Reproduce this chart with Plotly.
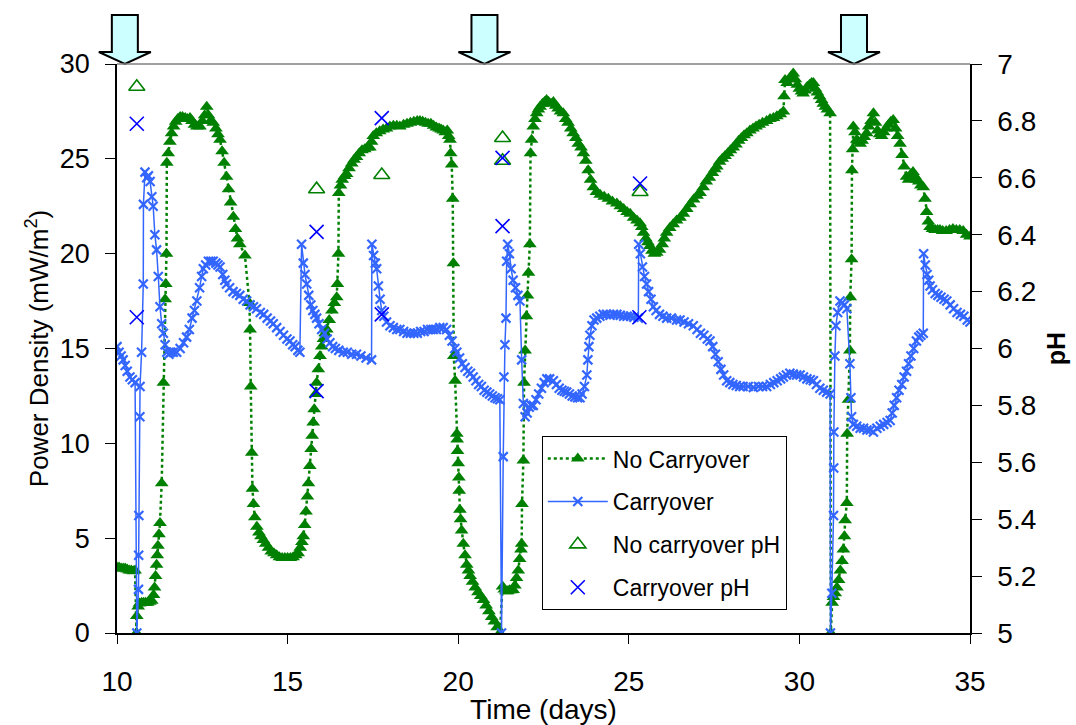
import plotly.graph_objects as go

# ---------------- data ----------------
no_carry_day = [
    10.0, 10.06, 10.12, 10.18, 10.24, 10.3, 10.36, 10.42, 10.48, 10.53, 10.57, 10.58,
    10.62, 10.66, 10.72, 10.78, 10.84, 10.9, 10.96, 11.02, 11.07, 11.1, 11.13, 11.16, 11.18, 11.2, 11.23, 11.26,
    11.31, 11.36, 11.41, 11.43, 11.45, 11.46,
    11.5, 11.55, 11.6, 11.66, 11.72, 11.78, 11.85, 11.92, 12.0, 12.07, 12.14, 12.2, 12.27, 12.34, 12.43, 12.5,
    12.57, 12.63, 12.68, 12.74, 12.82, 12.9, 12.96, 13.02, 13.08, 13.14, 13.21, 13.27, 13.33, 13.41, 13.47,
    13.53, 13.6, 13.75,
    13.88, 13.9, 13.92, 13.95, 13.97,
    14.0, 14.04, 14.1, 14.16, 14.22, 14.29, 14.36, 14.44, 14.52, 14.6, 14.68, 14.76, 14.84, 14.92, 15.0, 15.08,
    15.16, 15.24, 15.31, 15.37, 15.42, 15.46, 15.5, 15.54, 15.58, 15.61, 15.65, 15.69, 15.72, 15.75, 15.78,
    15.82, 15.85, 15.9, 15.95, 16.0, 16.05, 16.1, 16.15, 16.22, 16.3, 16.37, 16.44, 16.46, 16.49, 16.5,
    16.55, 16.6, 16.67, 16.73, 16.8, 16.88, 16.95, 17.02, 17.1, 17.18, 17.26, 17.34, 17.41, 17.46, 17.51,
    17.6, 17.7, 17.8, 17.9, 18.0, 18.1, 18.2, 18.29, 18.4, 18.5, 18.6, 18.7, 18.8, 18.88, 18.96, 19.04, 19.12,
    19.2, 19.28, 19.36, 19.44, 19.5, 19.56, 19.62, 19.68, 19.72, 19.76, 19.78, 19.81, 19.84, 19.86, 19.87,
    19.91, 19.96,
    19.97, 19.98, 20.0, 20.02, 20.03, 20.05, 20.07, 20.1, 20.15, 20.2, 20.25, 20.3, 20.35, 20.42, 20.5, 20.58,
    20.66, 20.74, 20.82, 20.9, 20.98, 21.06, 21.14, 21.22,
    21.3, 21.35, 21.4, 21.45, 21.5, 21.56, 21.61, 21.66, 21.71, 21.76, 21.8, 21.84, 21.86, 21.87, 21.91,
    21.93, 21.96, 22.0, 22.03, 22.06, 22.1, 22.12,
    22.15, 22.2, 22.25, 22.3, 22.35, 22.4, 22.47, 22.53, 22.59, 22.65, 22.72, 22.79, 22.86, 22.93, 23.0, 23.08,
    23.15, 23.22, 23.3, 23.37, 23.45, 23.52, 23.6, 23.67, 23.74, 23.81, 23.88, 23.96, 24.05, 24.16, 24.28,
    24.4, 24.52, 24.65, 24.75, 24.85, 24.95, 25.04, 25.14, 25.24, 25.33, 25.38, 25.43, 25.5, 25.56, 25.62,
    25.68, 25.75, 25.82, 25.9, 25.98, 26.04, 26.11, 26.2, 26.3, 26.4, 26.5, 26.6, 26.7, 26.8, 26.9, 27.0,
    27.09, 27.18, 27.27, 27.36, 27.45, 27.52, 27.58, 27.66, 27.74, 27.82, 27.9, 27.98, 28.06, 28.14, 28.22,
    28.3, 28.38, 28.46, 28.55, 28.64, 28.73, 28.82, 28.92, 29.04, 29.14, 29.24, 29.34, 29.44, 29.53, 29.55,
    29.58, 29.64, 29.7, 29.76, 29.82, 29.88, 29.94, 30.0, 30.06, 30.11, 30.17, 30.23, 30.3, 30.36, 30.41,
    30.47, 30.53, 30.59, 30.65, 30.7, 30.76, 30.82, 30.9, 30.92,
    30.96, 31.0, 31.05, 31.1, 31.15, 31.2, 31.25, 31.29, 31.32, 31.34, 31.39, 31.4, 31.44, 31.48, 31.49,
    31.53, 31.54, 31.56, 31.58, 31.63, 31.68, 31.73, 31.78, 31.84, 31.9, 31.97, 32.03, 32.1, 32.17, 32.23,
    32.29, 32.35, 32.41, 32.47, 32.54, 32.61, 32.68, 32.75, 32.82, 32.88, 32.95, 33.01, 33.07, 33.14, 33.2,
    33.27, 33.33, 33.38, 33.43, 33.5, 33.56, 33.63, 33.68, 33.73, 33.78, 33.83, 33.9, 33.98, 34.05, 34.12,
    34.2, 34.3, 34.4, 34.5, 34.6, 34.7, 34.8, 34.9, 35.0]
no_carry_pd = [
    3.45, 3.45, 3.4, 3.4, 3.4, 3.35, 3.3, 3.3, 3.25, 3.3, 0.0, 0.9,
    1.4, 1.55, 1.6, 1.6, 1.6, 1.6, 1.65, 1.7, 2.0, 2.4, 3.0, 3.6, 4.1, 4.6, 5.2, 5.8,
    7.9, 13.2, 17.6, 18.4, 20.0, 24.8,
    25.3, 25.9, 26.35, 26.7, 26.95, 27.1, 27.2, 27.2, 27.15, 27.1, 27.15, 27.0, 26.8, 26.7, 26.7, 27.0,
    27.3, 27.75, 27.3, 27.0, 26.9, 26.6, 26.3, 26.0, 25.4, 24.8, 24.05, 23.4, 22.7, 21.95, 21.3,
    20.8, 20.5, 19.9,
    17.4, 16.0, 13.0, 9.5, 7.6,
    6.8, 6.1, 5.6, 5.3, 5.1, 4.9, 4.7, 4.5, 4.3, 4.2, 4.1, 4.0, 3.95, 3.95, 3.95, 3.95,
    4.0, 4.1, 4.2, 4.5, 4.8, 5.1, 5.7, 6.4, 7.2, 7.9, 8.8, 9.7, 10.4, 11.1, 11.8,
    12.6, 13.2, 13.9, 14.6, 15.1, 15.5, 15.8, 16.0, 16.5, 17.0, 17.4, 17.7, 18.4, 20.0, 23.2,
    23.6, 23.9, 24.1, 24.2, 24.5, 24.75, 24.95, 25.1, 25.3, 25.45, 25.5, 25.6, 25.6, 25.9, 26.2,
    26.35, 26.45, 26.55, 26.6, 26.7, 26.75, 26.75, 26.7, 26.8, 26.85, 26.9, 26.95, 27.0, 27.0, 26.95, 26.9, 26.85,
    26.85, 26.75, 26.65, 26.6, 26.55, 26.5, 26.4, 26.5, 26.2, 26.0, 25.3, 24.7, 22.9, 19.5, 14.6,
    13.3, 10.5,
    10.2, 9.6, 8.95, 8.2, 7.5, 6.5, 6.0, 5.4, 4.7, 4.1, 3.6, 3.3, 3.0, 2.7, 2.4, 2.15,
    1.95, 1.74, 1.45, 1.15, 0.85, 0.6, 0.3, 0.0,
    2.45, 2.3, 2.2, 2.2, 2.25, 2.25, 2.27, 2.5, 2.9, 3.3, 3.9, 4.4, 4.7, 6.8, 9.1,
    13.2, 14.9, 16.7, 17.8, 19.0, 20.5, 25.3,
    26.0, 26.7, 27.1, 27.4, 27.6, 27.75, 27.9, 28.0, 28.1, 28.0, 27.9, 28.0, 27.8, 27.65, 27.5, 27.4,
    27.1, 26.9, 26.6, 26.35, 26.1, 25.8, 25.6, 25.3, 24.9, 24.4, 23.9, 23.5, 23.25, 23.1, 23.0,
    22.9, 22.75, 22.65, 22.5, 22.35, 22.2, 22.1, 21.9, 21.75, 21.6, 21.4, 21.1, 20.8, 20.6, 20.4,
    20.15, 20.0, 20.05, 20.2, 20.5, 20.8, 21.1, 21.35, 21.55, 21.75, 21.9, 22.1, 22.35, 22.6, 22.85, 23.05,
    23.2, 23.5, 23.8, 24.0, 24.25, 24.45, 24.6, 24.85, 25.0, 25.15, 25.3, 25.45, 25.6, 25.75, 25.95,
    26.1, 26.25, 26.35, 26.5, 26.6, 26.7, 26.8, 26.9, 27.0, 27.1, 27.15, 27.25, 27.35, 27.5, 28.3,
    29.15, 29.0, 29.2, 29.35, 29.5, 29.2, 28.9, 28.7, 28.55, 28.45, 28.6, 28.8, 28.9, 29.0, 29.0,
    28.7, 28.5, 28.3, 28.1, 27.9, 27.75, 27.6, 27.4, 0.0,
    1.6, 1.9, 2.1, 2.4, 2.8, 3.3, 3.8, 4.4, 5.1, 5.95, 6.85, 10.5, 12.3, 14.9, 17.7,
    19.7, 24.4, 25.5, 26.7, 26.4, 26.0, 25.9, 25.8, 25.95, 26.15, 26.35, 26.7, 27.0, 27.4, 26.9,
    26.5, 26.3, 26.2, 26.4, 26.6, 26.8, 26.95, 27.05, 26.6, 26.2, 25.8, 25.2, 24.6, 24.05, 23.9,
    24.2, 24.3, 24.1, 23.9, 23.8, 23.6, 23.5, 22.9, 22.2, 21.7, 21.4, 21.3, 21.25, 21.25, 21.25,
    21.2, 21.2, 21.25, 21.3, 21.25, 21.25, 21.2, 21.0, 20.9]

carry_day = [
    10.0, 10.06, 10.12, 10.18, 10.24, 10.3, 10.38, 10.45, 10.53, 10.58, 10.63, 10.635, 10.64, 10.67, 10.675,
    10.72, 10.77, 10.775, 10.82, 10.87, 10.92, 10.97, 11.02, 11.06, 11.11, 11.16, 11.21, 11.26, 11.31, 11.36,
    11.41, 11.46, 11.52, 11.58, 11.65, 11.75, 11.85, 11.95, 12.04, 12.12, 12.2, 12.27, 12.34, 12.42, 12.48,
    12.53, 12.6, 12.68, 12.75, 12.82, 12.9, 12.96, 13.02, 13.1, 13.16, 13.21, 13.3, 13.4, 13.5, 13.6, 13.7,
    13.8, 13.9, 14.0, 14.09, 14.2, 14.3, 14.4, 14.5, 14.58, 14.68, 14.78, 14.88, 14.98, 15.07, 15.15, 15.22,
    15.3, 15.36, 15.41, 15.46, 15.51, 15.56, 15.62, 15.68, 15.74, 15.8, 15.85, 15.92, 16.0, 16.08, 16.16,
    16.24, 16.32, 16.4, 16.5, 16.63, 16.75, 16.88, 17.02, 17.15, 17.3, 17.46, 17.47, 17.52, 17.57, 17.61,
    17.66, 17.71, 17.76, 17.82, 17.9, 18.0, 18.1, 18.2, 18.29, 18.4, 18.5, 18.6, 18.7, 18.8, 18.9, 19.0,
    19.1, 19.2, 19.27, 19.36, 19.46, 19.56, 19.66, 19.74, 19.82, 19.9, 19.96, 20.04, 20.12, 20.2, 20.28,
    20.36, 20.44, 20.52, 20.6, 20.68, 20.76, 20.84, 20.92, 21.0, 21.08, 21.15, 21.22, 21.27, 21.32, 21.34,
    21.37, 21.40, 21.42, 21.45, 21.5, 21.55, 21.61, 21.68, 21.75, 21.81, 21.86, 21.91, 21.96, 22.02, 22.08,
    22.14, 22.2, 22.28, 22.36, 22.44, 22.52, 22.6, 22.68, 22.79, 22.88, 22.96, 23.04, 23.11, 23.18, 23.26,
    23.34, 23.42, 23.5, 23.57, 23.63, 23.7, 23.77, 23.8, 23.83, 23.86, 23.92, 23.98, 24.06, 24.15, 24.25,
    24.35, 24.45, 24.55, 24.65, 24.75, 24.85, 24.95, 25.05, 25.15, 25.28, 25.29, 25.34, 25.4, 25.46, 25.52,
    25.58, 25.65, 25.72, 25.8, 25.9, 26.0, 26.11, 26.25, 26.4, 26.5, 26.62, 26.75, 26.89, 27.0, 27.1, 27.2,
    27.3, 27.38, 27.46, 27.54, 27.62, 27.7, 27.78, 27.87, 27.96, 28.05, 28.15, 28.25, 28.35, 28.5, 28.65,
    28.8, 28.92, 29.04, 29.15, 29.25, 29.35, 29.45, 29.53, 29.62, 29.72, 29.82, 29.92, 30.02, 30.12, 30.22,
    30.32, 30.41, 30.5, 30.6, 30.7, 30.8, 30.9, 30.91, 30.95, 31.0, 31.005, 31.01, 31.04, 31.07, 31.12,
    31.19, 31.25, 31.32, 31.39, 31.48, 31.51, 31.53, 31.58, 31.68, 31.78, 31.88, 31.98, 32.08, 32.17, 32.27,
    32.37, 32.47, 32.57, 32.66, 32.72, 32.78, 32.85, 32.92, 33.0, 33.07, 33.14, 33.2, 33.27, 33.35, 33.43,
    33.5, 33.56, 33.63, 33.64, 33.69, 33.74, 33.79, 33.83, 33.9, 33.98, 34.06, 34.15, 34.24, 34.32, 34.42,
    34.52, 34.62, 34.72, 34.82, 34.92, 35.0]
carry_pd = [
    15.1, 14.8, 14.6, 14.4, 14.1, 13.8, 13.5, 13.35, 13.2, 0.0, 2.3, 4.1, 6.2, 11.4, 13.0,
    14.8, 18.4, 22.6, 24.3, 24.0, 24.1, 23.8, 23.0, 22.5, 21.0, 20.2, 18.8, 17.2, 16.3, 15.8,
    15.2, 14.8, 14.7, 14.8, 14.8, 14.8, 15.0, 15.3, 15.6, 16.0, 16.6, 17.0, 17.5, 18.2, 18.8,
    19.2, 19.4, 19.6, 19.6, 19.6, 19.5, 19.4, 19.3, 18.9, 18.6, 18.4, 18.2, 18.0, 17.9, 17.8, 17.6,
    17.5, 17.3, 17.2, 17.1, 16.9, 16.8, 16.6, 16.45, 16.3, 16.1, 15.9, 15.7, 15.5, 15.4, 15.2, 15.1,
    14.9, 14.8, 20.5, 19.5, 18.9, 18.4, 17.8, 17.3, 17.0, 16.8, 16.6, 16.3, 16.0, 15.8, 15.5,
    15.3, 15.1, 15.0, 14.9, 14.8, 14.8, 14.7, 14.7, 14.6, 14.5, 14.4, 20.5, 19.9, 19.5, 19.2,
    18.3, 17.6, 17.0, 16.7, 16.4, 16.2, 16.1, 16.0, 16.0, 15.9, 15.8, 15.8, 15.8, 15.8, 15.9, 15.9,
    16.0, 16.0, 16.0, 16.0, 16.1, 16.1, 16.0, 15.7, 15.4, 15.0, 14.8, 14.5, 14.2, 14.0, 13.8,
    13.7, 13.5, 13.3, 13.1, 13.0, 12.8, 12.7, 12.6, 12.5, 12.4, 12.35, 12.3, 0.0, 9.3, 13.5,
    15.2, 16.6, 19.6, 20.5, 20.0, 19.2, 18.6, 18.2, 17.8, 17.5, 14.4, 12.1, 11.4, 11.6, 11.9,
    12.0, 12.0, 12.3, 12.6, 12.9, 13.2, 13.4, 13.4, 13.3, 13.1, 12.9, 12.8, 12.75, 12.7, 12.6,
    12.5, 12.45, 12.4, 12.4, 12.6, 13.0, 13.6, 14.4, 15.1, 15.7, 16.2, 16.5, 16.6, 16.7, 16.8,
    16.8, 16.75, 16.8, 16.8, 16.75, 16.7, 16.7, 16.7, 16.65, 16.6, 20.5, 20.0, 19.3, 18.8, 18.4,
    18.0, 17.6, 17.2, 17.0, 16.8, 16.7, 16.6, 16.6, 16.5, 16.5, 16.4, 16.3, 16.2, 16.0, 15.8, 15.7,
    15.5, 15.4, 15.1, 14.7, 14.3, 13.9, 13.6, 13.3, 13.2, 13.1, 13.05, 13.0, 13.0, 13.0, 12.95,
    13.0, 13.0, 13.0, 13.1, 13.2, 13.3, 13.4, 13.5, 13.6, 13.7, 13.65, 13.6, 13.6, 13.5, 13.4,
    13.35, 13.3, 13.1, 12.9, 12.8, 12.7, 12.6, 0.0, 2.1, 6.2, 8.7, 10.6, 14.6, 16.2, 16.9,
    17.5, 17.4, 17.3, 17.1, 14.2, 12.4, 11.4, 11.0, 10.9, 10.8, 10.8, 10.7, 10.7, 10.6, 10.8,
    10.9, 11.0, 11.1, 11.2, 11.6, 12.0, 12.4, 12.8, 13.1, 13.5, 13.8, 14.2, 14.6, 15.0, 15.4,
    15.6, 15.7, 15.8, 20.0, 19.4, 18.9, 18.6, 18.3, 18.1, 17.9, 17.8, 17.7, 17.6, 17.5, 17.3,
    17.1, 16.9, 16.8, 16.7, 16.5, 16.4]

no_carry_ph_day = [10.58, 15.85, 17.76, 21.3, 21.3, 25.33]
no_carry_ph = [6.92, 6.56, 6.61, 6.74, 6.66, 6.55]

carry_ph_day = [10.58, 10.58, 15.85, 15.85, 17.76, 17.76, 21.3, 21.3, 25.33, 25.31]
carry_ph = [6.79, 6.11, 6.41, 5.85, 6.81, 6.12, 6.67, 6.43, 6.58, 6.11]

arrow_days = [10.23, 20.77, 31.6]

assert len(no_carry_day) == len(no_carry_pd), (len(no_carry_day), len(no_carry_pd))
assert len(carry_day) == len(carry_pd), (len(carry_day), len(carry_pd))

x_range = [10, 35]
pd_range = [0, 30]
ph_range = [5, 7]

GREEN = "#008000"
BLUE_LINE = "#3366FF"
BLUE_PH = "#0000FF"
FONT = "Arial, Liberation Sans, sans-serif"

fig = go.Figure()

fig.add_trace(go.Scatter(
    x=no_carry_day, y=no_carry_pd, name="No Carryover", mode="lines+markers",
    line=dict(color=GREEN, width=2.5, dash="dot"),
    marker=dict(symbol="triangle-up", size=12, color=GREEN),
    legendgroup="a", yaxis="y"))

fig.add_trace(go.Scatter(
    x=carry_day, y=carry_pd, name="Carryover", mode="lines+markers",
    line=dict(color=BLUE_LINE, width=1.5),
    marker=dict(symbol="x-thin", size=9, color=BLUE_LINE, line=dict(color=BLUE_LINE, width=2.2)),
    legendgroup="b", yaxis="y"))

fig.add_trace(go.Scatter(
    x=no_carry_ph_day, y=no_carry_ph, name="No carryover pH", mode="markers",
    marker=dict(symbol="triangle-up-open", size=14, color=GREEN, line=dict(color=GREEN, width=1.6)),
    legendgroup="c", yaxis="y2"))

fig.add_trace(go.Scatter(
    x=carry_ph_day, y=carry_ph, name="Carryover pH", mode="markers",
    marker=dict(symbol="x-thin", size=14, color=BLUE_PH, line=dict(color=BLUE_PH, width=1.6)),
    legendgroup="d", yaxis="y2"))

# arrows above the plot
for d in arrow_days:
    xp = (d - x_range[0]) / (x_range[1] - x_range[0])
    fig.add_shape(type="path", xref="paper", yref="paper",
                  xsizemode="pixel", ysizemode="pixel", xanchor=xp, yanchor=1,
                  path="M -13,49 L 13,49 L 13,12 L 26,12 L 0,0 L -26,12 L -13,12 Z",
                  fillcolor="#CCFFFF", line=dict(color="black", width=2), layer="above")

# grey top border
fig.add_shape(type="line", xref="paper", yref="paper", x0=0, x1=1, y0=1, y1=1,
              line=dict(color="#808080", width=1.5))

fig.update_layout(
    width=1076, height=725,
    margin=dict(l=117, r=106, t=64, b=92, autoexpand=False),
    paper_bgcolor="white", plot_bgcolor="white",
    font=dict(family=FONT, color="black"),
    showlegend=True,
    legend=dict(x=0.498, y=0.346, xanchor="left", yanchor="top",
                bgcolor="white", bordercolor="black", borderwidth=1,
                font=dict(size=23, family=FONT), tracegroupgap=10, itemwidth=60,
                traceorder="grouped"),
    xaxis=dict(range=x_range, dtick=5, tick0=10, showline=True, linecolor="black", linewidth=1.5,
               ticks="outside", ticklen=9, tickcolor="black", showgrid=False, zeroline=False,
               tickfont=dict(size=28), ticklabelstandoff=14,
               title=dict(text="Time (days)", font=dict(size=28), standoff=2)),
    yaxis=dict(range=pd_range, dtick=5, showline=True, linecolor="black", linewidth=1.5,
               ticks="outside", ticklen=10, tickcolor="black", showgrid=False, zeroline=False,
               tickfont=dict(size=27), ticklabelstandoff=10,
               title=dict(text="Power Density (mW/m<sup>2</sup>)", font=dict(size=26), standoff=4)),
    yaxis2=dict(range=ph_range, dtick=0.2, overlaying="y", side="right", showline=True,
                linecolor="black", linewidth=1.5, ticks="outside", ticklen=10, tickcolor="black",
                showgrid=False, zeroline=False, tickfont=dict(size=28), ticklabelstandoff=10,
                title=dict(text="<b>pH</b>", font=dict(size=25), standoff=12)),
    yaxis3=dict(range=ph_range, dtick=0.2, overlaying="y", side="right", showline=False,
                ticks="inside", ticklen=10, tickcolor="black", showticklabels=False,
                showgrid=False, zeroline=False),
)

fig.write_html("out.html")
